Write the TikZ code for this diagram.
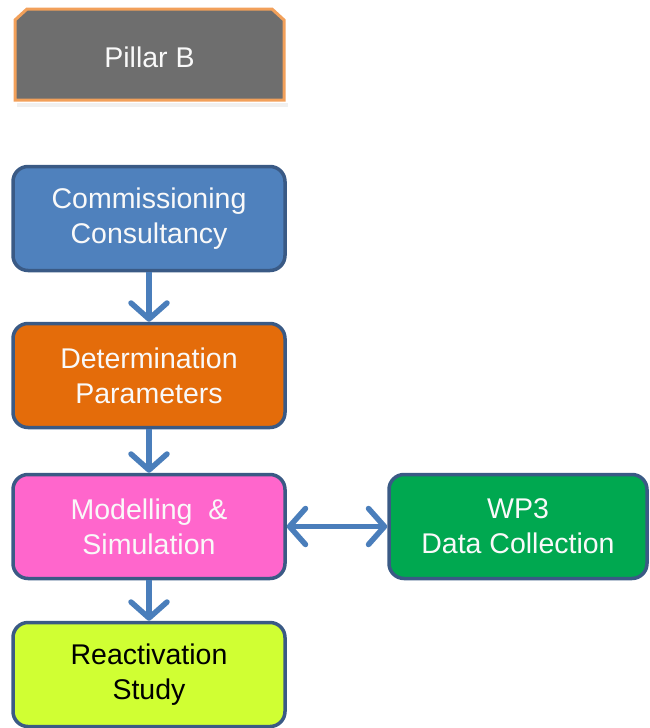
\documentclass[tikz,border=0pt]{standalone}
\usepackage{fontspec}
\setmainfont{Liberation Sans}
\usetikzlibrary{arrows.meta}
\definecolor{bluefill}{HTML}{4F81BD}
\definecolor{boxedge}{HTML}{3A5A85}
\definecolor{orangefill}{HTML}{E46C0A}
\definecolor{pinkfill}{HTML}{FF66CC}
\definecolor{greenfill}{HTML}{00A850}
\definecolor{limefill}{HTML}{D0FF33}
\definecolor{arrowcol}{HTML}{4A7EBB}
\definecolor{pillarfill}{HTML}{6E6E6E}
\definecolor{pillaredge}{HTML}{F2A05A}
\tikzset{
  flowbox/.style={draw=boxedge, line width=3.5pt, rounded corners=15pt,
    minimum width=272pt, minimum height=104pt, align=center,
    font=\fontsize{28.5}{35}\selectfont, text=white!95!gray},
  flowarrow/.style={draw=arrowcol, line width=5.5pt,
    -{Straight Barb[length=16pt,width=36pt,round]}},
  dblarrow/.style={draw=arrowcol, line width=5.5pt,
    {Straight Barb[length=16pt,width=36pt,round]}-{Straight Barb[length=16pt,width=36pt,round]}}
}
\begin{document}
\begin{tikzpicture}[x=1pt,y=-1pt]
\useasboundingbox (0,0) rectangle (650,728);
% Pillar B
\fill[black!15, opacity=0.4] (17,103) rectangle (288,107);
\draw[fill=pillarfill, draw=pillaredge, line width=3pt]
  (15,100) -- (15,20) -- (27,9) -- (272,9) -- (284,20) -- (284,100) -- cycle;
\node[text=white!95!gray, font=\fontsize{28.5}{35}\selectfont] (pillar) at (149.5,57) {Pillar\ B};
% flow boxes
\node[flowbox, fill=bluefill] (comm) at (149,218.5) {Commissioning\\Consultancy};
\node[flowbox, fill=orangefill] (det) at (149,375.5) {Determination\\Parameters};
\node[flowbox, fill=pinkfill] (mod) at (149,526.5) {Modelling\ \ \&\\Simulation};
\node[flowbox, fill=limefill, text=black] (react) at (149,674.5) {Reactivation\\Study};
\node[flowbox, fill=greenfill, minimum width=258pt] (wp3) at (518,526.5) {WP3\\Data Collection};
% arrows
\draw[flowarrow] (comm.south) -- (det.north);
\draw[flowarrow] (det.south) -- (mod.north);
\draw[flowarrow] (mod.south) -- (react.north);
\draw[dblarrow] (mod.east) -- (wp3.west);
\end{tikzpicture}
\end{document}
